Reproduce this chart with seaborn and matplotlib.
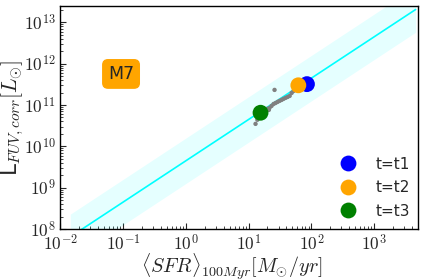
import numpy as np
import pandas as pd
import matplotlib
matplotlib.use("Agg")
import matplotlib.pyplot as plt
import matplotlib.ticker as mticker
import seaborn as sns

# Data
sfr_grey = [12.9, 13.8, 14.9, 16.6, 18.6, 20.0, 21.5, 23.2, 25.0, 26.9, 29.0, 31.2,
            33.6, 36.1, 38.9, 41.9, 45.1, 48.5, 52.2, 56.2, 60.5, 25.9, 21.0, 17.5]
lum_grey = [3.5e10, 4.4e10, 5.1e10, 6.1e10, 7.2e10, 8.1e10, 8.5e10, 9.5e10, 1.06e11,
            1.12e11, 1.19e11, 1.26e11, 1.33e11, 1.41e11, 1.49e11, 1.57e11, 1.66e11,
            1.96e11, 2.19e11, 2.45e11, 2.59e11, 2.32e11, 7.6e10, 6.3e10]
labels = ["t=t1", "t=t2", "t=t3"]
sfr_main = [85.0, 62.0, 15.5]
lum_main = [3.2e11, 3.0e11, 6.5e10]
colors = ["blue", "orange", "green"]
relation_logsfr = [-1.84, 3.66]
relation_intercept = 9.65
relation_scatter = 0.55
model_name = "M7"

sns.set_style("white")
plt.rcParams['mathtext.fontset'] = 'cm'

fig = plt.figure(figsize=(4.24, 2.8), dpi=100)
ax = fig.add_axes([0.142, 0.182, 0.844, 0.797])

xs = np.logspace(relation_logsfr[0], relation_logsfr[1], 50)
ys = xs * 10**relation_intercept
ax.fill_between(xs, ys / 10**relation_scatter, ys * 10**relation_scatter,
                color="cyan", alpha=0.1, linewidth=0, zorder=1)
sns.lineplot(x=xs, y=ys, color="cyan", linewidth=1.2, ax=ax, zorder=2)

sns.scatterplot(x=sfr_grey, y=lum_grey, color="grey", s=10, edgecolor="none",
                ax=ax, zorder=3)

df = pd.DataFrame({"sfr": sfr_main, "lum": lum_main, "t": labels})
sns.scatterplot(data=df, x="sfr", y="lum", hue="t", palette=colors, s=130,
                edgecolor="none", ax=ax, zorder=5)

ax.set_xscale("log")
ax.set_yscale("log")
ax.set_xlim(1e-2, 5e3)
ax.set_ylim(1e8, 2.5e13)

fmt = mticker.FuncFormatter(lambda v, p: r"$10^{%d}$" % round(np.log10(v)))
ax.xaxis.set_major_formatter(fmt)
ax.yaxis.set_major_formatter(fmt)
ax.xaxis.set_major_locator(mticker.LogLocator(base=10, numticks=12))
ax.yaxis.set_major_locator(mticker.LogLocator(base=10, numticks=12))
ax.xaxis.set_minor_locator(mticker.LogLocator(base=10, subs=np.arange(2, 10), numticks=12))
ax.yaxis.set_minor_locator(mticker.LogLocator(base=10, subs=np.arange(2, 10), numticks=12))
ax.xaxis.set_minor_formatter(mticker.NullFormatter())
ax.yaxis.set_minor_formatter(mticker.NullFormatter())

ax.tick_params(which="both", direction="in", labelsize=12.5, left=True, bottom=True)
ax.tick_params(which="major", length=4)
ax.tick_params(which="minor", length=2)
for s in ax.spines.values():
    s.set_color("black")
    s.set_linewidth(1)

ax.set_xlabel(r"$\langle SFR\rangle_{100Myr}[M_{\odot}/yr]$", fontsize=14.5)
ax.set_ylabel(r"L$_{FUV,corr}[L_{\odot}]$", fontsize=15.5)
ax.xaxis.set_label_coords(0.48, -0.103)
ax.yaxis.set_label_coords(-0.095, 0.5)

ax.text(0.17, 0.695, model_name, transform=ax.transAxes, fontsize=12.5,
        ha="center", va="center",
        bbox=dict(boxstyle="round,pad=0.3", facecolor="orange", edgecolor="orange"))

leg = ax.legend(loc="lower right", frameon=False, fontsize=11, title=None,
                markerscale=1.0, handletextpad=0.8, labelspacing=0.55,
                bbox_to_anchor=(1.015, -0.015))

fig.savefig("out.png", dpi=100)
